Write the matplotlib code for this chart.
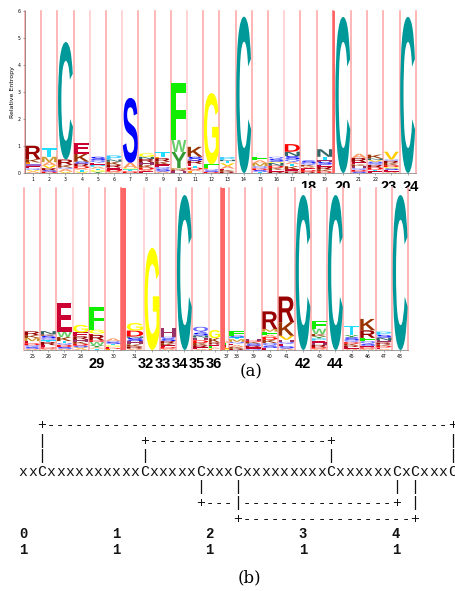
import matplotlib
matplotlib.use("Agg")
import matplotlib.pyplot as plt
from matplotlib.textpath import TextPath
from matplotlib.patches import PathPatch
from matplotlib.font_manager import FontProperties
from matplotlib.transforms import Affine2D, blended_transform_factory

# ---------------- data: HMM logo, letters listed bottom -> top ----------------
top_pos = list(range(1, 25))
top_letters = ["AVQEILKR", "DSRVAMT", "VAQKRC", "VTADRSKE", "YGTAPEQS", "ADERKNP",
               "DTGAS", "EADKHRNG", "ASQEKRLT", "HRMYWF", "LADTERSK", "DSQLFG",
               "RKEAVTNP", "C", "TSDQMAF", "REKDNGSQ", "REKTAQSND", "RDEAKQS",
               "DKRESHTN", "C", "SDQHKERA", "ETDRQSVNK", "AESGDKRQV", "C"]
top_heights = [[.06, .05, .06, .08, .07, .07, .12, .50],
               [.05, .05, .08, .10, .12, .20, .32],
               [.05, .10, .05, .10, .20, 4.35],
               [.05, .07, .05, .08, .10, .07, .30, .39],
               [.05, .06, .05, .07, .08, .07, .10, .12],
               [.05, .07, .08, .10, .12, .08, .15],
               [.06, .07, .05, .20, 2.40],
               [.06, .06, .08, .10, .10, .12, .08, .13],
               [.06, .08, .08, .10, .10, .13, .06, .17],
               [.08, .05, .05, .60, .44, 2.10],
               [.06, .06, .08, .06, .08, .12, .14, .37],
               [.04, .05, .05, .06, .12, 2.64],
               [.05, .06, .05, .10, .10, .08, .05, .10],
               [5.79],
               [.05, .06, .06, .08, .12, .10, .13],
               [.05, .06, .08, .08, .10, .05, .10, .08],
               [.06, .07, .12, .08, .08, .10, .12, .16, .28],
               [.05, .06, .06, .07, .06, .07, .09],
               [.06, .07, .10, .08, .10, .09, .10, .28],
               [5.78],
               [.05, .06, .07, .08, .06, .08, .16, .15],
               [.06, .06, .08, .10, .06, .06, .06, .06, .14],
               [.05, .06, .06, .05, .07, .08, .08, .05, .29],
               [5.78]]
top_width = [1.0] * 24
top_insert_len = [0] * 19 + [0.12] + [0] * 5
top_insert_prob = [.6, .6, .6, .6, .35, .6, .35, .6, .6, .6, .35, .6, .6,
                   .6, .6, .6, .35, .6, .6, 1.0, .6, .6, .6, .6, .6]
top_marked = [18, 20, 23, 24]

bot_pos = list(range(25, 49))
bot_letters = ["ASQDEMKR", "ADERTQSKN", "ASDQTKWE", "AVSDKHREG", "TAYWDREGF", "LDEGTSQA",
               "ARKHSNDG", "G", "ADEKRSQH", "C", "AERKDHNSQ", "LAFERKG",
               "GLEFA", "RKAEQMTSF", "QERSKDH", "ESQKDAFMR", "ASEQHVKR", "C",
               "ADRHEPYKWF", "C", "AERKDQSYT", "ADESQFRK", "AEDKRHNSP", "C"]
bot_heights = [[.05, .06, .07, .07, .08, .12, .10, .14],
               [.05, .05, .08, .12, .06, .08, .09, .05, .12],
               [.05, .06, .08, .07, .07, .15, .20, 1.05],
               [.05, .05, .06, .07, .08, .08, .12, .14, .28],
               [.05, .05, .08, .12, .06, .20, .05, .14, .85],
               [.04, .04, .04, .05, .06, .06, .04, .10],
               [.05, .08, .08, .12, .12, .05, .22, .28],
               [3.78],
               [.05, .06, .06, .08, .08, .10, .06, .31],
               [5.74],
               [.04, .06, .08, .08, .10, .10, .08, .10, .22],
               [.04, .05, .05, .06, .08, .16, .30],
               [.05, .06, .07, .08, .08],
               [.05, .06, .07, .06, .06, .10, .07, .06, .17],
               [.05, .05, .06, .08, .06, .05, .05],
               [.08, .08, .10, .12, .10, .08, .12, .10, .65],
               [.06, .08, .08, .08, .08, .15, .50, .95],
               [5.74],
               [.05, .06, .08, .08, .08, .08, .08, .08, .20, .30],
               [5.74],
               [.05, .06, .06, .06, .06, .08, .10, .08, .34],
               [.05, .05, .06, .07, .10, .12, .28, .42],
               [.04, .05, .06, .05, .08, .08, .10, .10, .12],
               [5.74]]
bot_width = [1, 1, 1, 1, 1, 1, 1.1, 1, 1, 1, 1, 0.74,
             0.25, 1, 1.04, 1, 1.04, 1, 1, 1, 1, 1, 1, 1]
bot_insert_len = [0] * 6 + [0.3] + [0] * 5 + [0.25] + [0] * 12
bot_insert_prob = [.6, .6, .6, .35, .6, .6, 1.0, .35, .6, .6, .6, .35, 1.0,
                   .6, .6, .6, .6, .6, .6, .6, .6, .6, .6, .6, .6]
bot_marked = [29, 32, 33, 34, 35, 36, 42, 44]

# disulfide pattern (b)
sequence = "xx" + "C" + "xxxxxxxxxx" + "C" + "xxxxx" + "C" + "xxx" + "C" + \
           "xxxxxxxxx" + "C" + "xxxxxx" + "C" + "x" + "C" + "xxx" + "C"
bonds_above = [(3, 47), (14, 34)]
bonds_below = [(20, 41), (24, 43)]
ruler_tens = [0, 1, 2, 3, 4]
ruler_ones = [1, 1, 1, 1, 1]

colors = {'A': '#FF9966', 'C': '#009999', 'D': '#FF0000', 'E': '#CC0033', 'F': '#11EE00',
          'G': '#FFFF00', 'H': '#993366', 'I': '#9966CC', 'K': '#993300', 'L': '#FF9900',
          'M': '#CC9933', 'N': '#336666', 'P': '#33CCFF', 'Q': '#6666FF', 'R': '#990000',
          'S': '#0000FF', 'T': '#22DDFF', 'V': '#FFCC00', 'W': '#66CC66', 'Y': '#339933'}

W, H = 456, 591
unit = 16.2
fig = plt.figure(figsize=(W / 100, H / 100), dpi=100)
fp = FontProperties(family="Liberation Sans", weight="bold")


def letter(ax, ch, x, y, w, h):
    tp = TextPath((0, 0), ch, size=1, prop=fp)
    bb = tp.get_extents()
    tr = Affine2D().translate(-bb.x0, -bb.y0).scale(w / bb.width, h / bb.height).translate(x, y)
    ax.add_patch(PathPatch(tr.transform_path(tp), fc=colors[ch], ec="none", lw=0, zorder=3))


def insert_color(p):
    return (1.0, 1 - 0.6 * p, 1 - 0.6 * p)


def logo(rect_left, rect_top, pos, letters, heights, widths, ins_len, ins_prob, marked, yaxis):
    total = sum(widths) + sum(ins_len)
    ax = fig.add_axes([rect_left / W, 1 - (rect_top + 162) / H, total * unit / W, 162 / H])
    x = 0.0
    centers = []
    for i in range(len(pos)):
        ax.axvline(x, color=insert_color(ins_prob[i]), lw=1.1, zorder=1, clip_on=False)
        if ins_len[i] > 0:
            ax.axvspan(x, x + ins_len[i], color=insert_color(ins_prob[i]), lw=0, zorder=1)
            x += ins_len[i]
        w = widths[i]
        y = 0.0
        for ch, h in zip(letters[i], heights[i]):
            letter(ax, ch, x + 0.04 * w, y, 0.92 * w, h)
            y += h
        centers.append(x + w / 2)
        x += w
    ax.axvline(x, color=insert_color(ins_prob[-1]), lw=1.1, zorder=1, clip_on=False)
    ax.set_xlim(0, total)
    ax.set_ylim(0, 6)
    ax.set_xticks(centers)
    ax.set_xticklabels(["" if p in marked else str(p) for p in pos], fontsize=3.3)
    ax.tick_params(axis="x", length=1.5, width=0.4, pad=1.5, color="#666666")
    for s in ["top", "right"]:
        ax.spines[s].set_visible(False)
    ax.spines["bottom"].set_linewidth(0.5)
    ax.spines["bottom"].set_color("#777777")
    if yaxis:
        ax.set_yticks(range(7))
        ax.set_yticklabels([str(v) for v in range(7)], fontsize=3.3)
        ax.tick_params(axis="y", length=1.5, width=0.4, pad=1.5, color="#666666")
        ax.spines["left"].set_linewidth(0.5)
        ax.spines["left"].set_color("#777777")
        ax.set_ylabel("Relative Entropy", fontsize=4.5, labelpad=2)
    else:
        ax.set_yticks([])
        ax.spines["left"].set_visible(False)

    # bold labels; runs of neighbouring positions are packed side by side
    tr = blended_transform_factory(ax.transData, ax.transAxes)
    runs = []
    for m in marked:
        if runs and m == runs[-1][-1] + 1:
            runs[-1].append(m)
        else:
            runs.append([m])
    for run in runs:
        mid = sum(centers[pos.index(m)] for m in run) / len(run)
        step = 1.4 if len(run) == 2 else 1.06
        for j, m in enumerate(run):
            xm = mid + (j - (len(run) - 1) / 2) * step - (0.26 if len(run) > 2 else 0)
            ax.text(xm, -0.086, str(m), transform=tr, ha="center", va="center",
                    fontsize=10.5, fontweight="bold", family="Liberation Sans")
    return ax


logo(25, 11, top_pos, top_letters, top_heights, top_width, top_insert_len, top_insert_prob,
     top_marked, True)
logo(24, 188, bot_pos, bot_letters, bot_heights, bot_width, bot_insert_len, bot_insert_prob,
     bot_marked, False)

fig.text(251 / W, 1 - 372 / H, "(a)", ha="center", va="center", fontsize=12, family="DejaVu Serif")
fig.text(249 / W, 1 - 578 / H, "(b)", ha="center", va="center", fontsize=12, family="DejaVu Serif")

# ---------------- ASCII bond diagram ----------------
n = len(sequence)
grid = [[" "] * n for _ in range(9)]
grid[3] = list(sequence)
for r, (a, b) in enumerate(bonds_above):
    for k in range(a, b - 1):
        grid[r][k] = "-"
for r, (a, b) in enumerate(bonds_below):
    for k in range(a, b - 1):
        grid[5 + r][k] = "-"
for r, (a, b) in enumerate(bonds_above):
    for c in (a, b):
        grid[r][c - 1] = "+"
        for rr in range(r + 1, 3):
            grid[rr][c - 1] = "|"
for r, (a, b) in enumerate(bonds_below):
    for c in (a, b):
        grid[5 + r][c - 1] = "+"
        for rr in range(4, 5 + r):
            grid[rr][c - 1] = "|"
for i, (t, o) in enumerate(zip(ruler_tens, ruler_ones)):
    grid[7][i * 10] = str(t)
    grid[8][i * 10] = str(o)

pitch = 9.33
for r in range(9):
    yc = 425 + r * 15.6
    bold = r >= 7
    for k, ch in enumerate(grid[r]):
        if ch == " ":
            continue
        xk = (18.3 + (k + 0.5) * pitch) / W
        if ch == "-":
            fig.text(xk, 1 - yc / H, ch, ha="center", va="center", fontsize=10,
                     family="Liberation Mono", color="#111111")
        else:
            fig.text(xk, 1 - (yc + 4.0) / H, ch, ha="center", va="baseline",
                     fontsize=10 if bold else 10.6, family="Liberation Mono",
                     fontweight="bold" if bold else "normal", color="#111111")

fig.savefig("out.png", dpi=100, facecolor="white")
